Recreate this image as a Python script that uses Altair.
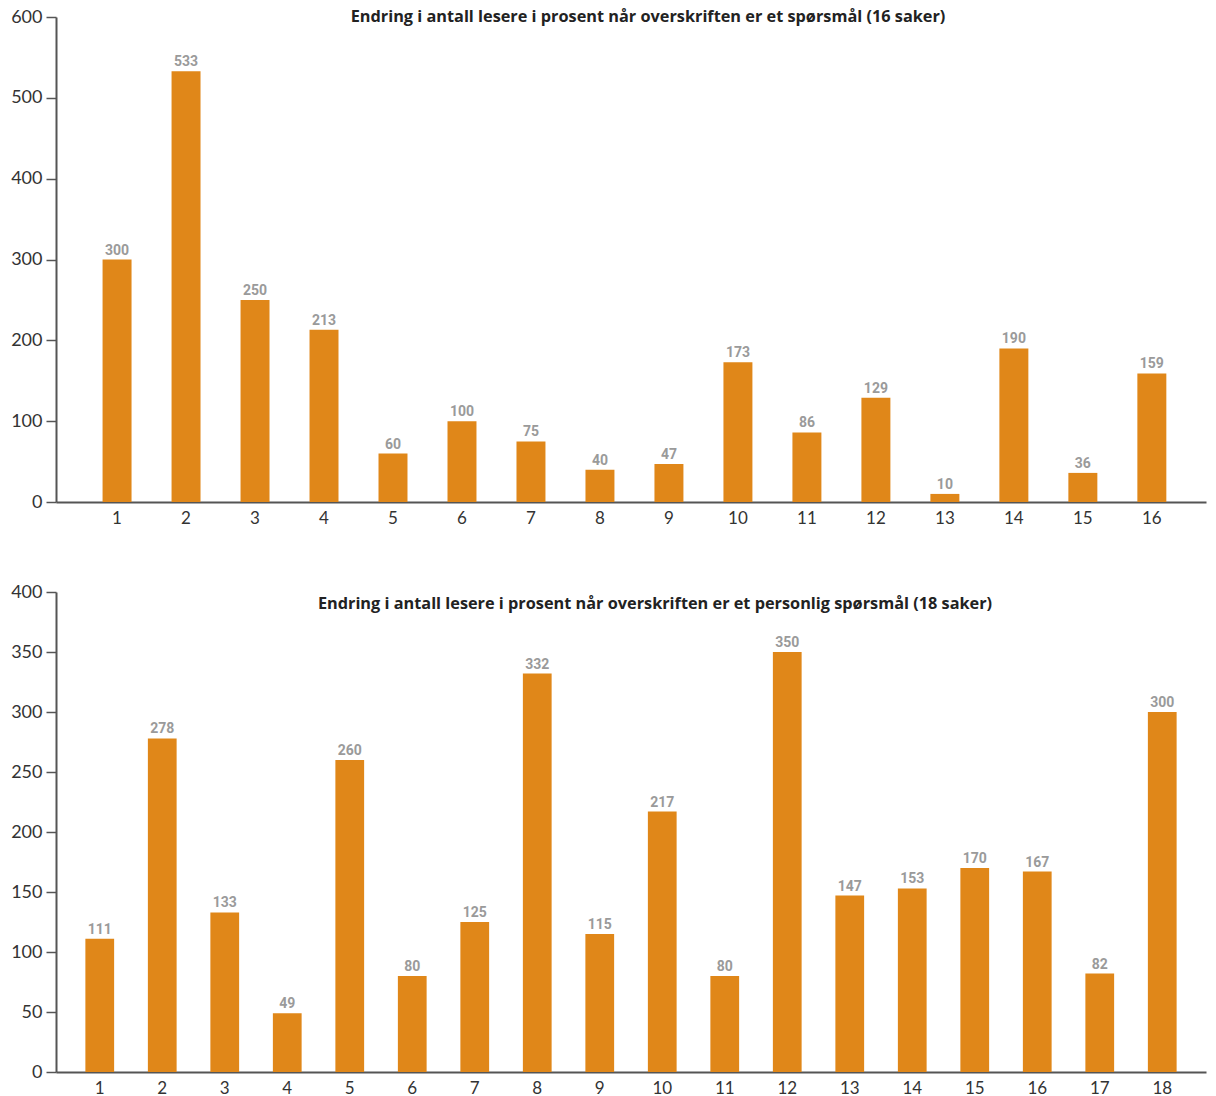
import altair as alt
import pandas as pd

top_cats = list(range(1, 17))
top_vals = [300, 533, 250, 213, 60, 100, 75, 40, 47, 173, 86, 129, 10, 190, 36, 159]
bot_cats = list(range(1, 19))
bot_vals = [111, 278, 133, 49, 260, 80, 125, 332, 115, 217, 80, 350, 147, 153, 170, 167, 82, 300]

top_title = "Endring i antall lesere i prosent når overskriften er et spørsmål (16 saker)"
bot_title = "Endring i antall lesere i prosent når overskriften er et personlig spørsmål (18 saker)"

BAR = "#E08719"
FONT = "Lato"
TFONT = "Open Sans"


def panel(cats, vals, ymax, ystep, title, w, h, pad_outer, pad_inner, align, tx, ty):
    df = pd.DataFrame({"sak": cats, "verdi": vals})
    x = alt.X("sak:O", sort=cats,
              scale=alt.Scale(paddingInner=pad_inner, paddingOuter=pad_outer, align=align),
              axis=alt.Axis(title=None, labelAngle=0, ticks=False, labelPadding=8,
                            labelFontSize=17, labelFont=FONT, labelColor="#333333",
                            domainColor="#555555", domainWidth=2))
    y = alt.Y("verdi:Q", scale=alt.Scale(domain=[0, ymax], nice=False),
              axis=alt.Axis(title=None, values=list(range(0, ymax + 1, ystep)), grid=False,
                            tickSize=10, tickColor="#555555", tickWidth=1.5, labelPadding=4,
                            labelFontSize=18, labelFont=FONT, labelColor="#333333",
                            domainColor="#555555", domainWidth=2))
    base = alt.Chart(df)
    bars = base.mark_bar(color=BAR).encode(x=x, y=y)
    labels = base.mark_text(dy=-9, fontSize=14, fontWeight="bold", font="Roboto",
                            color="#9a9a9a").encode(x=x, y=y, text="verdi:Q")
    ttl = alt.Chart(pd.DataFrame({"t": [title]})).mark_text(
        fontSize=16.3, fontWeight="bold", font=TFONT, color="#222222", baseline="middle"
    ).encode(text="t:N", x=alt.value(tx), y=alt.value(ty))
    return alt.layer(bars, labels, ttl).properties(width=w, height=h)


top = panel(top_cats, top_vals, 600, 100, top_title, 1150, 485, 0.625, 0.58, 0.54, 592, 0)
bot = panel(bot_cats, bot_vals, 400, 50, bot_title, 1150, 480, 0.47, 0.54, 0.5, 599, 12)

chart = alt.vconcat(top, bot, spacing=57).configure_view(stroke=None).properties(
    padding={"left": 10, "top": 8, "right": 8, "bottom": 0},
    background="white",
)

chart.save("out.html", embed_options={"renderer": "svg", "actions": False})
